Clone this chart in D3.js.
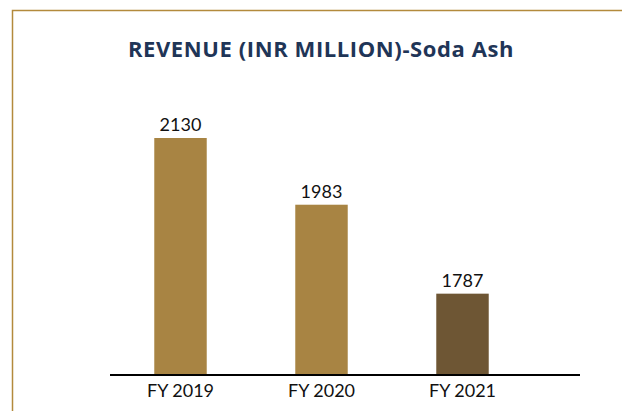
<!DOCTYPE html>
<html>
<head>
<meta charset="utf-8">
<script src="https://cdn.jsdelivr.net/npm/d3@7"></script>
<style>
  body { margin: 0; background: #fff; }
  svg { display: block; }
</style>
</head>
<body>
<div id="chart"></div>
<script>
const years = ['FY 2019', 'FY 2020', 'FY 2021'];
const revenue = [2130, 1983, 1787];
const barColors = ['#A88443', '#A88443', '#6E5634'];
const title = 'REVENUE (INR MILLION)-Soda Ash';

const width = 622;
const height = 411;

const svg = d3.select('#chart')
  .append('svg')
    .attr('width', width)
    .attr('height', height);

// frame (top + left gold rule)
svg.append('path')
  .attr('d', `M12.5,${height} V10.5 H${width}`)
  .attr('fill', 'none')
  .attr('stroke', '#B38A3C')
  .attr('stroke-width', 1.5);

svg.append('text')
  .attr('x', 321)
  .attr('y', 57)
  .attr('text-anchor', 'middle')
  .attr('font-family', '"Open Sans", sans-serif')
  .attr('font-weight', 'bold')
  .attr('font-size', '22px')
  .attr('letter-spacing', '0.6px')
  .attr('fill', '#1F3557')
  .text(title);

const x = d3.scaleBand()
  .domain(years)
  .range([110, 533])
  .paddingInner(0.628)
  .paddingOuter(0.314);

// axis baseline is not zero
const y = d3.scaleLinear()
  .domain([1610, 2130])
  .range([374, 138]);

svg.selectAll('rect.bar')
  .data(revenue)
  .enter().append('rect')
    .attr('class', 'bar')
    .attr('x', (d, i) => x(years[i]))
    .attr('y', d => y(d))
    .attr('width', x.bandwidth())
    .attr('height', d => y.range()[0] - y(d))
    .attr('fill', (d, i) => barColors[i]);

svg.selectAll('text.val')
  .data(revenue)
  .enter().append('text')
    .attr('class', 'val')
    .attr('x', (d, i) => x(years[i]) + x.bandwidth() / 2)
    .attr('y', d => y(d) - 7)
    .attr('text-anchor', 'middle')
    .attr('font-family', 'Lato, sans-serif')
    .attr('font-size', '18px')
    .attr('fill', '#111')
    .text(d => d);

const axis = svg.append('g')
  .attr('transform', 'translate(0,374)')
  .call(d3.axisBottom(x).tickSize(0).tickPadding(10));
axis.select('.domain').remove();
axis.selectAll('text')
  .attr('font-family', 'Lato, sans-serif')
  .attr('font-size', '18px')
  .attr('fill', '#111');

svg.append('line')
  .attr('x1', 110)
  .attr('x2', 580)
  .attr('y1', 375)
  .attr('y2', 375)
  .attr('stroke', '#000')
  .attr('stroke-width', 2);
</script>
</body>
</html>
